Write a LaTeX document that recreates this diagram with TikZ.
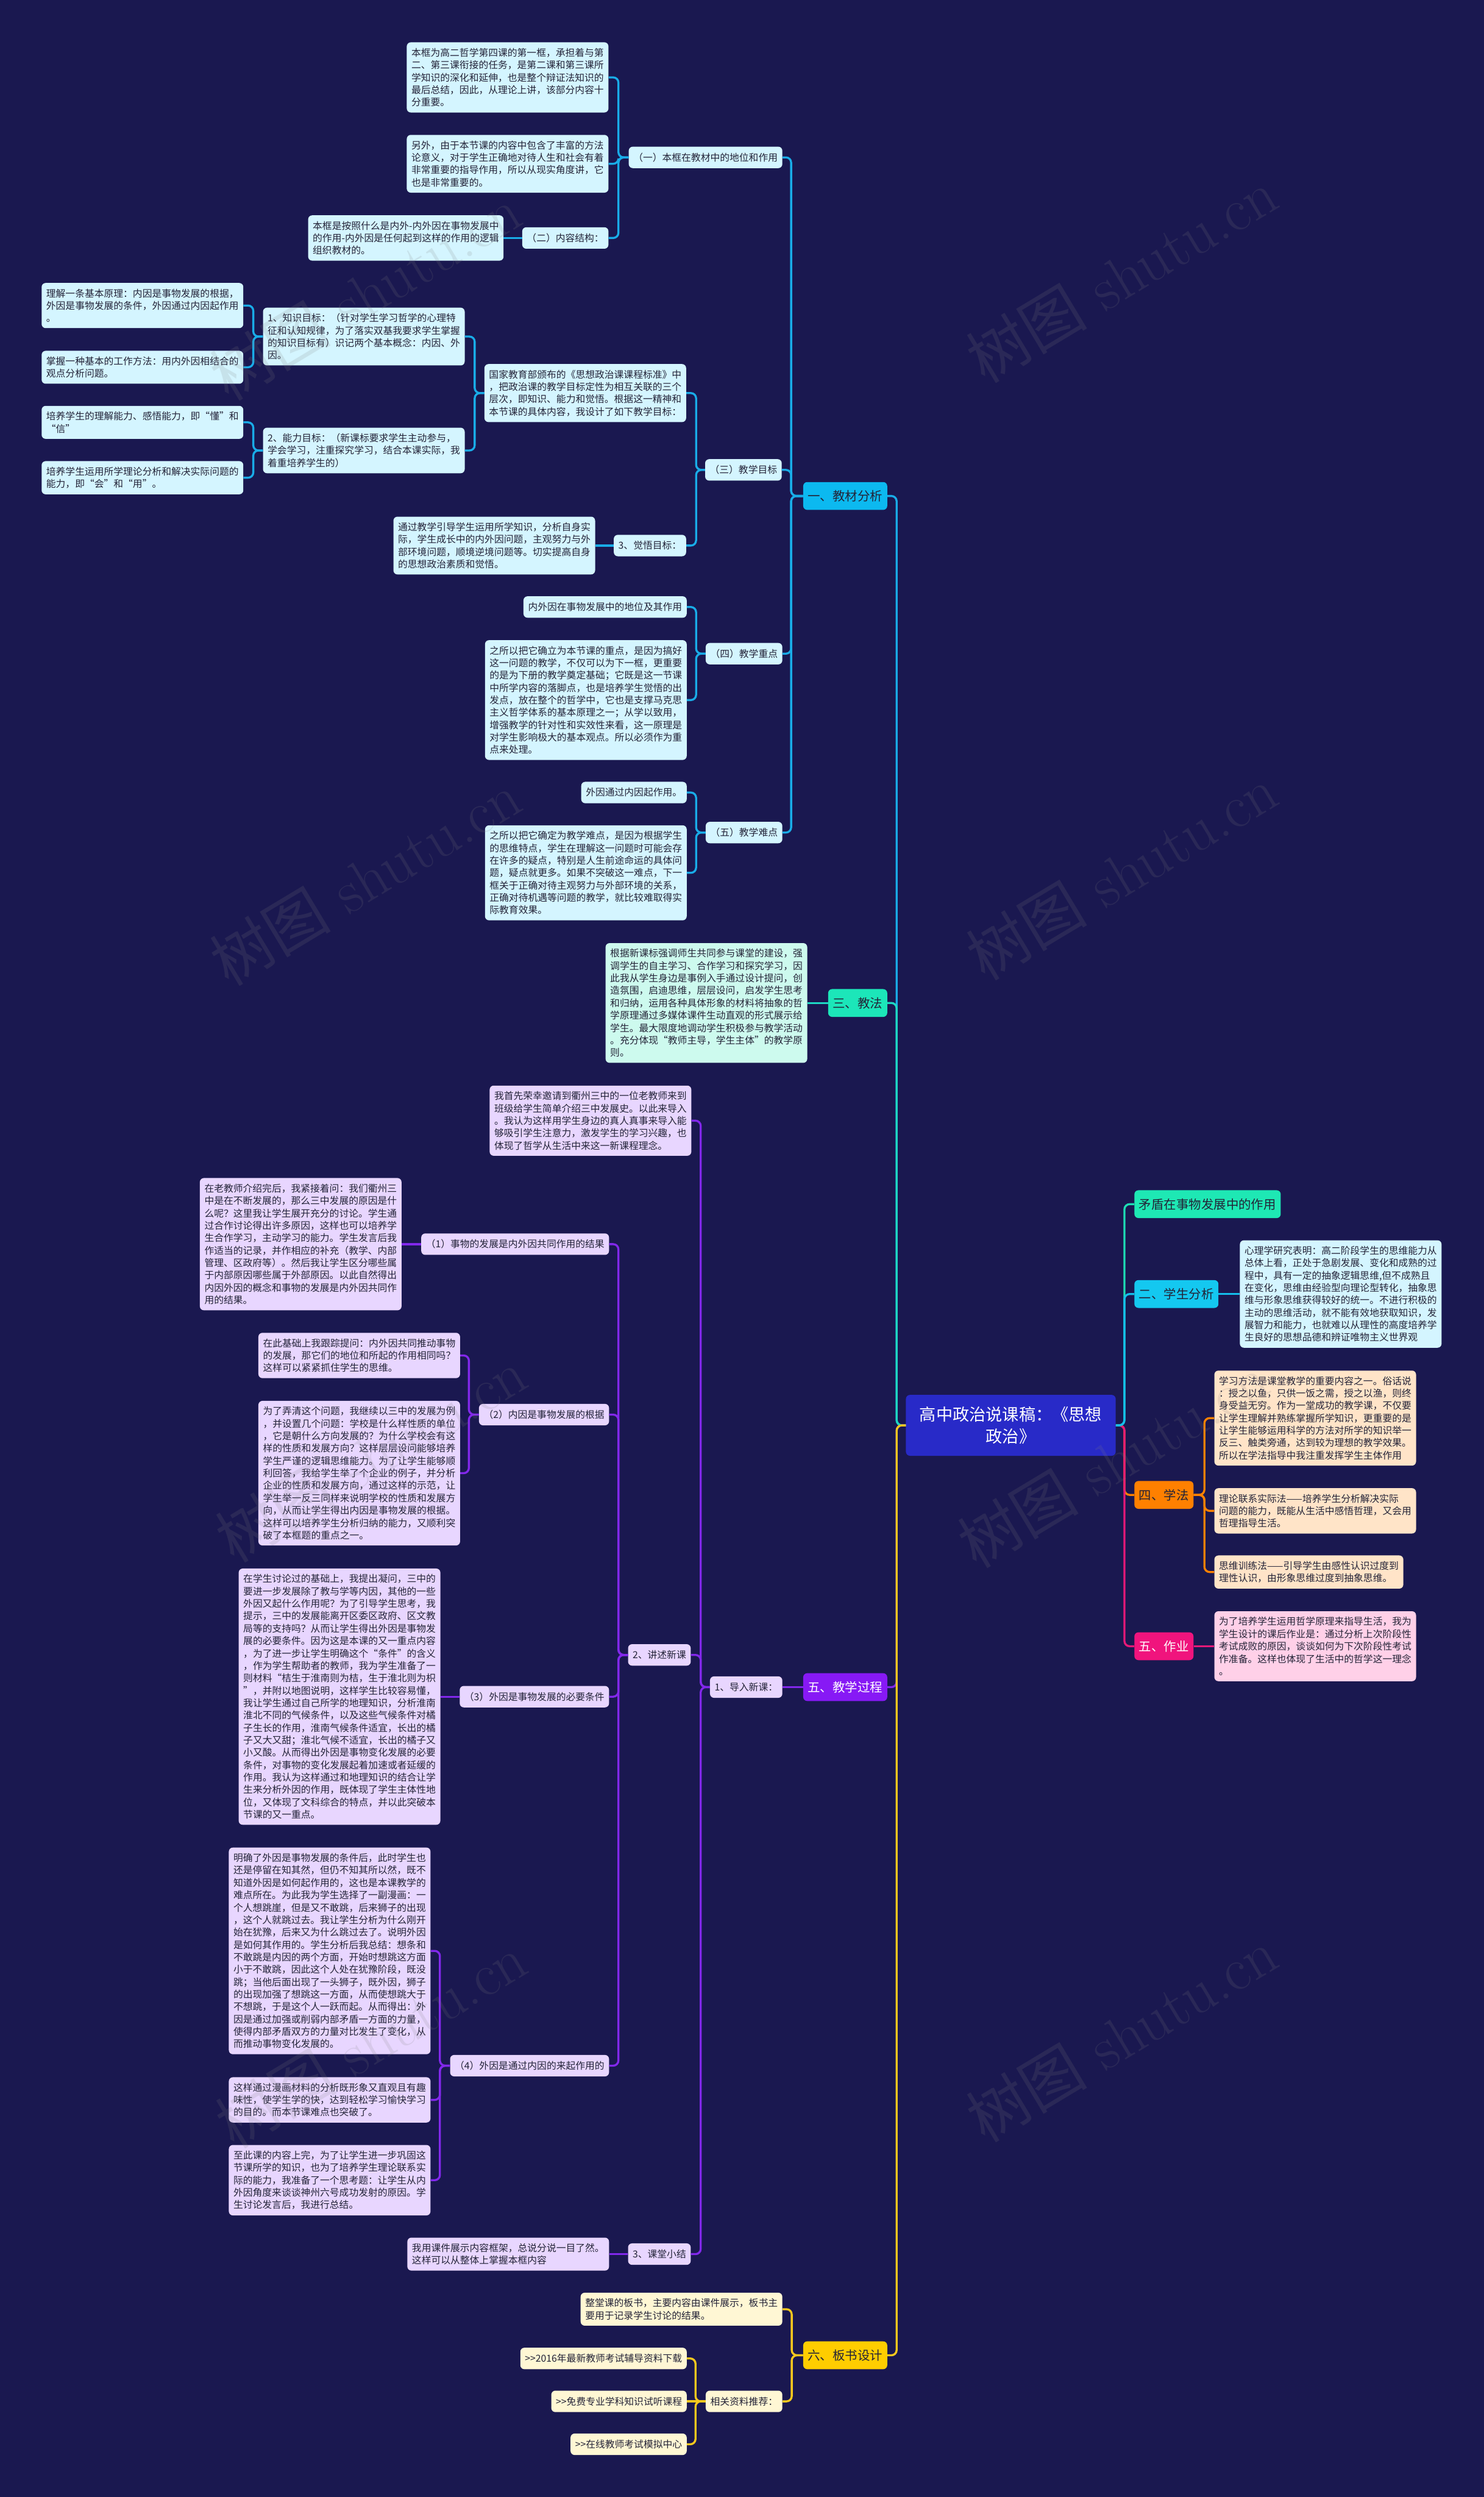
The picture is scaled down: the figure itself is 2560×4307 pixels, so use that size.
\documentclass[tikz,border=0pt]{standalone}
\usepackage{fontspec}
\newfontfamily\cjk{Noto Sans CJK SC}
\definecolor{bg}{RGB}{26,24,80}
\definecolor{txt}{RGB}{35,35,55}
\definecolor{rootc}{RGB}{40,42,200}
\definecolor{lonec}{RGB}{12,185,240}
\definecolor{lcyan}{RGB}{212,245,255}
\definecolor{tealc}{RGB}{28,230,185}
\definecolor{lmint}{RGB}{205,250,238}
\definecolor{purc}{RGB}{135,25,245}
\definecolor{lpur}{RGB}{232,214,255}
\definecolor{yelc}{RGB}{255,205,0}
\definecolor{lyel}{RGB}{255,247,212}
\definecolor{mc}{RGB}{30,232,180}
\definecolor{rtwoc}{RGB}{20,200,240}
\definecolor{orc}{RGB}{255,128,0}
\definecolor{lpeach}{RGB}{255,228,200}
\definecolor{pkc}{RGB}{240,20,125}
\definecolor{lpink}{RGB}{255,208,232}
\definecolor{ln1}{RGB}{25,172,232}
\definecolor{lnteal}{RGB}{30,215,195}
\definecolor{lnpur}{RGB}{130,40,235}
\definecolor{lnyel}{RGB}{245,200,30}
\definecolor{lnm}{RGB}{30,220,180}
\definecolor{lntwo}{RGB}{20,190,235}
\definecolor{lnor}{RGB}{255,130,0}
\definecolor{lnpk}{RGB}{230,25,120}
\newcommand\conL[4]{\draw[#1] (#2.west) -- (#2.west -| #3) |- (#4.east);}
\newcommand\conR[4]{\draw[#1] (#2.east) -- (#2.east -| #3) |- (#4.west);}
\begin{document}
\begin{tikzpicture}[x=1pt,y=-1pt,
  conn/.style={line width=3.5pt, rounded corners=9pt},
  box/.style={rounded corners=7pt, inner xsep=8pt, inner ysep=10pt, align=left, text=txt, font=\cjk\fontsize{16.6}{21.4}\selectfont},
  lbl/.style={box, inner ysep=4pt, minimum height=37pt},
  mainb/.style={rounded corners=7pt, inner xsep=8pt, inner ysep=4pt, minimum height=48pt, text=txt, font=\cjk\fontsize{21.5}{26}\selectfont},
  rootb/.style={rounded corners=7pt, fill=rootc, text=white, align=center, minimum width=362pt, minimum height=105pt, font=\cjk\fontsize{28.6}{37}\selectfont},
  wm/.style={rotate=31, text=gray, opacity=0.16, font=\fontsize{105}{105}\selectfont}
]
\useasboundingbox (0,0) rectangle (2560,4307);
\fill[bg] (0,0) rectangle (2560,4307);

% trunk coordinates
\coordinate (tRL) at (1547,0);
\coordinate (tRR) at (1940,0);
\coordinate (tone) at (1365,0);
\coordinate (tonea) at (1067,0);
\coordinate (tthree) at (1201,0);
\coordinate (tA) at (819,0);
\coordinate (tK) at (437,0);
\coordinate (tfour) at (1201,0);
\coordinate (tfive) at (1209,0);
\coordinate (tfivetwo) at (1067,0);
\coordinate (tqtwo) at (809,0);
\coordinate (tqfour) at (759,0);
\coordinate (tsix) at (1366,0);
\coordinate (tsixtwo) at (1200,0);
\coordinate (txf) at (2078,0);

% root
\node[rootb] (root) at (1744,2458.5) {高中政治说课稿：《思想\\政治》};

% right side
\node[mainb, fill=mc, anchor=west] (r1) at (1957,2077) {矛盾在事物发展中的作用};
\node[mainb, fill=rtwoc, anchor=west] (r2) at (1957,2232) {二、学生分析};
\node[box, fill=lcyan, anchor=west] (r2a) at (2139,2232) {心理学研究表明：高二阶段学生的思维能力从\\总体上看，正处于急剧发展、变化和成熟的过\\程中，具有一定的抽象逻辑思维,但不成熟且\\在变化，思维由经验型向理论型转化，抽象思\\维与形象思维获得较好的统一。不进行积极的\\主动的思维活动，就不能有效地获取知识，发\\展智力和能力，也就难以从理性的高度培养学\\生良好的思想品德和辨证唯物主义世界观};
\node[mainb, fill=orc, anchor=west] (r4) at (1957,2578.5) {四、学法};
\node[box, fill=lpeach, anchor=west] (r4a) at (2095,2446) {学习方法是课堂教学的重要内容之一。俗话说\\：授之以鱼，只供一饭之需，授之以渔，则终\\身受益无穷。作为一堂成功的教学课，不仅要\\让学生理解并熟练掌握所学知识，更重要的是\\让学生能够运用科学的方法对所学的知识举一\\反三、触类旁通，达到较为理想的教学效果。\\所以在学法指导中我注重发挥学生主体作用};
\node[box, fill=lpeach, anchor=west] (r4b) at (2095,2606) {理论联系实际法——培养学生分析解决实际\\问题的能力，既能从生活中感悟哲理，又会用\\哲理指导生活。};
\node[box, fill=lpeach, anchor=west] (r4c) at (2095,2711.5) {思维训练法——引导学生由感性认识过度到\\理性认识，由形象思维过度到抽象思维。};
\node[mainb, fill=pkc, text=white, anchor=west] (r5) at (1957,2839.5) {五、作业};
\node[box, fill=lpink, anchor=west] (r5a) at (2095,2839.5) {为了培养学生运用哲学原理来指导生活，我为\\学生设计的课后作业是：通过分析上次阶段性\\考试成败的原因，谈谈如何为下次阶段性考试\\作准备。这样也体现了生活中的哲学这一理念\\。};

% left main branches
\node[mainb, fill=lonec, anchor=east] (l1) at (1531,855.5) {一、教材分析};
\node[mainb, fill=tealc, anchor=east] (l3) at (1531,1730) {三、教法};
\node[box, fill=lmint, anchor=east] (l3a) at (1393,1730) {根据新课标强调师生共同参与课堂的建设，强\\调学生的自主学习、合作学习和探究学习，因\\此我从学生身边是事例入手通过设计提问，创\\造氛围，启迪思维，层层设问，启发学生思考\\和归纳，运用各种具体形象的材料将抽象的哲\\学原理通过多媒体课件生动直观的形式展示给\\学生。最大限度地调动学生积极参与教学活动\\。充分体现“教师主导，学生主体”的教学原\\则。};
\node[mainb, fill=purc, text=white, anchor=east] (l5) at (1531,2910) {五、教学过程};
\node[mainb, fill=yelc, anchor=east] (l6) at (1531,4062.5) {六、板书设计};

% branch one
\node[lbl, fill=lcyan, anchor=east] (n11) at (1350,271.5) {（一）本框在教材中的地位和作用};
\node[box, fill=lcyan, anchor=east] (n11a) at (1050,133.5) {本框为高二哲学第四课的第一框，承担着与第\\二、第三课衔接的任务，是第二课和第三课所\\学知识的深化和延伸，也是整个辩证法知识的\\最后总结，因此，从理论上讲，该部分内容十\\分重要。};
\node[box, fill=lcyan, anchor=east] (n11b) at (1050,282.5) {另外，由于本节课的内容中包含了丰富的方法\\论意义，对于学生正确地对待人生和社会有着\\非常重要的指导作用，所以从现实角度讲，它\\也是非常重要的。};
\node[lbl, fill=lcyan, anchor=east] (n12) at (1050,410.5) {（二）内容结构：};
\node[box, fill=lcyan, anchor=east] (n12a) at (869,410.5) {本框是按照什么是内外-内外因在事物发展中\\的作用-内外因是任何起到这样的作用的逻辑\\组织教材的。};
\node[lbl, fill=lcyan, anchor=east] (n13) at (1349,810.5) {（三）教学目标};
\node[box, fill=lcyan, anchor=east] (n13a) at (1184,678) {国家教育部颁布的《思想政治课课程标准》中\\，把政治课的教学目标定性为相互关联的三个\\层次，即知识、能力和觉悟。根据这一精神和\\本节课的具体内容，我设计了如下教学目标：};
\node[box, fill=lcyan, anchor=east] (n131) at (802,580.5) {1、知识目标：（针对学生学习哲学的心理特\\征和认知规律，为了落实双基我要求学生掌握\\的知识目标有）识记两个基本概念：内因、外\\因。};
\node[box, fill=lcyan, anchor=east] (n131a) at (420,527) {理解一条基本原理：内因是事物发展的根据，\\外因是事物发展的条件，外因通过内因起作用\\。};
\node[box, fill=lcyan, anchor=east] (n131b) at (420,633.5) {掌握一种基本的工作方法：用内外因相结合的\\观点分析问题。};
\node[box, fill=lcyan, anchor=east] (n132) at (802,777) {2、能力目标：（新课标要求学生主动参与，\\学会学习，注重探究学习，结合本课实际，我\\着重培养学生的）};
\node[box, fill=lcyan, anchor=east] (n132a) at (420,728.5) {培养学生的理解能力、感悟能力，即“懂”和\\“信”};
\node[box, fill=lcyan, anchor=east] (n132b) at (420,824) {培养学生运用所学理论分析和解决实际问题的\\能力，即“会”和“用”。};
\node[lbl, fill=lcyan, anchor=east] (n133) at (1184,941) {3、觉悟目标：};
\node[box, fill=lcyan, anchor=east] (n133a) at (1027,941) {通过教学引导学生运用所学知识，分析自身实\\际，学生成长中的内外因问题，主观努力与外\\部环境问题，顺境逆境问题等。切实提高自身\\的思想政治素质和觉悟。};
\node[lbl, fill=lcyan, anchor=east] (n14) at (1350,1127.5) {（四）教学重点};
\node[lbl, fill=lcyan, anchor=east] (n14a) at (1185,1047) {内外因在事物发展中的地位及其作用};
\node[box, fill=lcyan, anchor=east] (n14b) at (1185,1207.5) {之所以把它确立为本节课的重点，是因为搞好\\这一问题的教学，不仅可以为下一框，更重要\\的是为下册的教学奠定基础；它既是这一节课\\中所学内容的落脚点，也是培养学生觉悟的出\\发点，放在整个的哲学中，它也是支撑马克思\\主义哲学体系的基本原理之一；从学以致用，\\增强教学的针对性和实效性来看，这一原理是\\对学生影响极大的基本观点。所以必须作为重\\点来处理。};
\node[lbl, fill=lcyan, anchor=east] (n15) at (1350,1436) {（五）教学难点};
\node[lbl, fill=lcyan, anchor=east] (n15a) at (1185,1367) {外因通过内因起作用。};
\node[box, fill=lcyan, anchor=east] (n15b) at (1185,1505.5) {之所以把它确定为教学难点，是因为根据学生\\的思维特点，学生在理解这一问题时可能会存\\在许多的疑点，特别是人生前途命运的具体问\\题，疑点就更多。如果不突破这一难点，下一\\框关于正确对待主观努力与外部环境的关系，\\正确对待机遇等问题的教学，就比较难取得实\\际教育效果。};

% branch five
\node[lbl, fill=lpur, anchor=east] (n51) at (1350,2910) {1、导入新课：};
\node[box, fill=lpur, anchor=east] (n51a) at (1193,1933) {我首先荣幸邀请到衢州三中的一位老教师来到\\班级给学生简单介绍三中发展史。以此来导入\\。我认为这样用学生身边的真人真事来导入能\\够吸引学生注意力，激发学生的学习兴趣，也\\体现了哲学从生活中来这一新课程理念。};
\node[lbl, fill=lpur, anchor=east] (n52) at (1192,2854.5) {2、讲述新课};
\node[lbl, fill=lpur, anchor=east] (n521) at (1051,2146) {（1）事物的发展是内外因共同作用的结果};
\node[box, fill=lpur, anchor=east] (n521a) at (693,2146) {在老教师介绍完后，我紧接着问：我们衢州三\\中是在不断发展的，那么三中发展的原因是什\\么呢？这里我让学生展开充分的讨论。学生通\\过合作讨论得出许多原因，这样也可以培养学\\生合作学习，主动学习的能力。学生发言后我\\作适当的记录，并作相应的补充（教学、内部\\管理、区政府等）。然后我让学生区分哪些属\\于内部原因哪些属于外部原因。以此自然得出\\内因外因的概念和事物的发展是内外因共同作\\用的结果。};
\node[lbl, fill=lpur, anchor=east] (n522) at (1051,2440) {（2）内因是事物发展的根据};
\node[box, fill=lpur, anchor=east] (n522a) at (794,2338) {在此基础上我跟踪提问：内外因共同推动事物\\的发展，那它们的地位和所起的作用相同吗？\\这样可以紧紧抓住学生的思维。};
\node[box, fill=lpur, anchor=east] (n522b) at (794,2541) {为了弄清这个问题，我继续以三中的发展为例\\，并设置几个问题：学校是什么样性质的单位\\，它是朝什么方向发展的？为什么学校会有这\\样的性质和发展方向？这样层层设问能够培养\\学生严谨的逻辑思维能力。为了让学生能够顺\\利回答，我给学生举了个企业的例子，并分析\\企业的性质和发展方向，通过这样的示范，让\\学生举一反三同样来说明学校的性质和发展方\\向，从而让学生得出内因是事物发展的根据。\\这样可以培养学生分析归纳的能力，又顺利突\\破了本框题的重点之一。};
\node[lbl, fill=lpur, anchor=east] (n523) at (1051,2926.5) {（3）外因是事物发展的必要条件};
\node[box, fill=lpur, anchor=east] (n523a) at (760,2926.5) {在学生讨论过的基础上，我提出凝问，三中的\\要进一步发展除了教与学等内因，其他的一些\\外因又起什么作用呢？为了引导学生思考，我\\提示，三中的发展能离开区委区政府、区文教\\局等的支持吗？从而让学生得出外因是事物发\\展的必要条件。因为这是本课的又一重点内容\\，为了进一步让学生明确这个“条件”的含义\\，作为学生帮助者的教师，我为学生准备了一\\则材料“桔生于淮南则为桔，生于淮北则为枳\\”，并附以地图说明，这样学生比较容易懂，\\我让学生通过自己所学的地理知识，分析淮南\\淮北不同的气候条件，以及这些气候条件对橘\\子生长的作用，淮南气候条件适宜，长出的橘\\子又大又甜；淮北气候不适宜，长出的橘子又\\小又酸。从而得出外因是事物变化发展的必要\\条件，对事物的变化发展起着加速或者延缓的\\作用。我认为这样通过和地理知识的结合让学\\生来分析外因的作用，既体现了学生主体性地\\位，又体现了文科综合的特点，并以此突破本\\节课的又一重点。};
\node[lbl, fill=lpur, anchor=east] (n524) at (1051,3563) {（4）外因是通过内因的来起作用的};
\node[box, fill=lpur, anchor=east] (n524a) at (743,3365) {明确了外因是事物发展的条件后，此时学生也\\还是停留在知其然，但仍不知其所以然，既不\\知道外因是如何起作用的，这也是本课教学的\\难点所在。为此我为学生选择了一副漫画：一\\个人想跳崖，但是又不敢跳，后来狮子的出现\\，这个人就跳过去。我让学生分析为什么刚开\\始在犹豫，后来又为什么跳过去了。说明外因\\是如何其作用的。学生分析后我总结：想条和\\不敢跳是内因的两个方面，开始时想跳这方面\\小于不敢跳，因此这个人处在犹豫阶段，既没\\跳；当他后面出现了一头狮子，既外因，狮子\\的出现加强了想跳这一方面，从而使想跳大于\\不想跳，于是这个人一跃而起。从而得出：外\\因是通过加强或削弱内部矛盾一方面的力量，\\使得内部矛盾双方的力量对比发生了变化，从\\而推动事物变化发展的。};
\node[box, fill=lpur, anchor=east] (n524b) at (743,3622) {这样通过漫画材料的分析既形象又直观且有趣\\味性，使学生学的快，达到轻松学习愉快学习\\的目的。而本节课难点也突破了。};
\node[box, fill=lpur, anchor=east] (n524c) at (743,3760.5) {至此课的内容上完，为了让学生进一步巩固这\\节课所学的知识，也为了培养学生理论联系实\\际的能力，我准备了一个思考题：让学生从内\\外因角度来谈谈神州六号成功发射的原因。学\\生讨论发言后，我进行总结。};
\node[lbl, fill=lpur, anchor=east] (n53) at (1192,3888) {3、课堂小结};
\node[box, fill=lpur, anchor=east] (n53a) at (1051,3888) {我用课件展示内容框架，总说分说一目了然。\\这样可以从整体上掌握本框内容};

% branch six
\node[box, fill=lyel, anchor=east] (n61) at (1350,3983) {整堂课的板书，主要内容由课件展示，板书主\\要用于记录学生讨论的结果。};
\node[lbl, fill=lyel, anchor=east] (n62) at (1350,4142) {相关资料推荐：};
\node[lbl, fill=lyel, anchor=east] (n621) at (1185,4068) {>>2016年最新教师考试辅导资料下载};
\node[lbl, fill=lyel, anchor=east] (n622) at (1185,4142) {>>免费专业学科知识试听课程};
\node[lbl, fill=lyel, anchor=east] (n623) at (1185,4216) {>>在线教师考试模拟中心};

% connectors: root right
\conR{conn,lnor}{root}{tRR}{r4}
\conR{conn,lnpk}{root}{tRR}{r5}
\conR{conn,lnm}{root}{tRR}{r1}
\conR{conn,lntwo}{root}{tRR}{r2}
\draw[conn,lntwo] (r2.east) -- (r2a.west);
\conR{conn,lnor}{r4}{txf}{r4a}
\conR{conn,lnor}{r4}{txf}{r4b}
\conR{conn,lnor}{r4}{txf}{r4c}
\draw[conn,lnpk] (r5.east) -- (r5a.west);

% root left
\conL{conn,ln1}{root}{tRL}{l1}
\conL{conn,lnteal}{root}{tRL}{l3}
\conL{conn,lnpur}{root}{tRL}{l5}
\conL{conn,lnyel}{root}{tRL}{l6}
\draw[conn,lnteal] (l3.west) -- (l3a.east);

% branch one
\conL{conn,ln1}{l1}{tone}{n11}
\conL{conn,ln1}{l1}{tone}{n13}
\conL{conn,ln1}{l1}{tone}{n14}
\conL{conn,ln1}{l1}{tone}{n15}
\conL{conn,ln1}{n11}{tonea}{n11a}
\conL{conn,ln1}{n11}{tonea}{n11b}
\conL{conn,ln1}{n11}{tonea}{n12}
\draw[conn,ln1] (n12.west) -- (n12a.east);
\conL{conn,ln1}{n13}{tthree}{n13a}
\conL{conn,ln1}{n13}{tthree}{n133}
\conL{conn,ln1}{n13a}{tA}{n131}
\conL{conn,ln1}{n13a}{tA}{n132}
\conL{conn,ln1}{n131}{tK}{n131a}
\conL{conn,ln1}{n131}{tK}{n131b}
\conL{conn,ln1}{n132}{tK}{n132a}
\conL{conn,ln1}{n132}{tK}{n132b}
\draw[conn,ln1] (n133.west) -- (n133a.east);
\conL{conn,ln1}{n14}{tfour}{n14a}
\conL{conn,ln1}{n14}{tfour}{n14b}
\conL{conn,ln1}{n15}{tfour}{n15a}
\conL{conn,ln1}{n15}{tfour}{n15b}

% branch five
\draw[conn,lnpur] (l5.west) -- (n51.east);
\conL{conn,lnpur}{n51}{tfive}{n51a}
\conL{conn,lnpur}{n51}{tfive}{n52}
\conL{conn,lnpur}{n51}{tfive}{n53}
\conL{conn,lnpur}{n52}{tfivetwo}{n521}
\conL{conn,lnpur}{n52}{tfivetwo}{n522}
\conL{conn,lnpur}{n52}{tfivetwo}{n523}
\conL{conn,lnpur}{n52}{tfivetwo}{n524}
\draw[conn,lnpur] (n521.west) -- (n521a.east);
\conL{conn,lnpur}{n522}{tqtwo}{n522a}
\conL{conn,lnpur}{n522}{tqtwo}{n522b}
\draw[conn,lnpur] (n523.west) -- (n523a.east);
\conL{conn,lnpur}{n524}{tqfour}{n524a}
\conL{conn,lnpur}{n524}{tqfour}{n524b}
\conL{conn,lnpur}{n524}{tqfour}{n524c}
\draw[conn,lnpur] (n53.west) -- (n53a.east);

% branch six
\conL{conn,lnyel}{l6}{tsix}{n61}
\conL{conn,lnyel}{l6}{tsix}{n62}
\conL{conn,lnyel}{n62}{tsixtwo}{n621}
\draw[conn,lnyel] (n62.west) -- (n622.east);
\conL{conn,lnyel}{n62}{tsixtwo}{n623}

% watermarks
\node[wm] (w1) at (630,505) {{\cjk 树图} shutu.cn};
\node[wm] (w2) at (1935,475) {{\cjk 树图} shutu.cn};
\node[wm] (w3) at (630,1515) {{\cjk 树图} shutu.cn};
\node[wm] (w4) at (1935,1505) {{\cjk 树图} shutu.cn};
\node[wm] (w5) at (640,2510) {{\cjk 树图} shutu.cn};
\node[wm] (w6) at (1920,2519) {{\cjk 树图} shutu.cn};
\node[wm] (w7) at (640,3520) {{\cjk 树图} shutu.cn};
\node[wm] (w8) at (1935,3510) {{\cjk 树图} shutu.cn};
\end{tikzpicture}
\end{document}
